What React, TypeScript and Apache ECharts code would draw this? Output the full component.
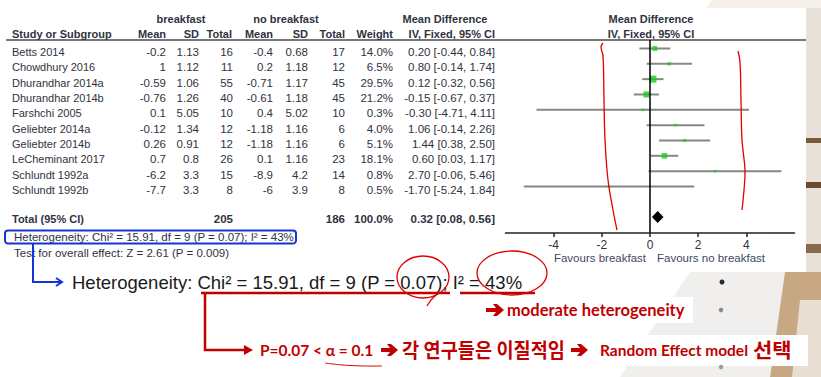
import React, { useEffect, useRef } from "react";
import * as echarts from "echarts";

const studies = [
  "Betts 2014", "Chowdhury 2016", "Dhurandhar 2014a", "Dhurandhar 2014b", "Farshchi 2005",
  "Geliebter 2014a", "Geliebter 2014b", "LeCheminant 2017", "Schlundt 1992a", "Schlundt 1992b",
];
const bMean = ["-0.2", "1", "-0.59", "-0.76", "0.1", "-0.12", "0.26", "0.7", "-6.2", "-7.7"];
const bSD = ["1.13", "1.12", "1.06", "1.26", "5.05", "1.34", "0.91", "0.8", "3.3", "3.3"];
const bN = [16, 11, 55, 40, 10, 12, 12, 26, 15, 8];
const nbMean = ["-0.4", "0.2", "-0.71", "-0.61", "0.4", "-1.18", "-1.18", "0.1", "-8.9", "-6"];
const nbSD = ["0.68", "1.18", "1.17", "1.18", "5.02", "1.16", "1.16", "1.16", "4.2", "3.9"];
const nbN = [17, 12, 45, 45, 10, 6, 6, 23, 14, 8];
const weights = [14.0, 6.5, 29.5, 21.2, 0.3, 4.0, 5.1, 18.1, 0.8, 0.5];
const md = [0.2, 0.8, 0.12, -0.15, -0.3, 1.06, 1.44, 0.6, 2.7, -1.7];
const ciLow = [-0.44, -0.14, -0.32, -0.67, -4.71, -0.14, 0.38, 0.03, -0.06, -5.24];
const ciHigh = [0.84, 1.74, 0.56, 0.37, 4.11, 2.26, 2.5, 1.17, 5.46, 1.84];
const totalBN = 205;
const totalNbN = 186;
const totalWeight = 100.0;
const totalMd = 0.32;
const totalLow = 0.08;
const totalHigh = 0.56;
const xTicks = [-4, -2, 0, 2, 4];
const heterogeneityText = "Heterogeneity: Chi\u00B2 = 15.91, df = 9 (P = 0.07); I\u00B2 = 43%";
const overallText = "Test for overall effect: Z = 2.61 (P = 0.009)";

const ARIAL = "'Liberation Sans', Arial, sans-serif";
const KFONT = "Lato, 'Noto Sans CJK KR', sans-serif";
const TXT = "#2f3340";
const RED = "#c00000";
const HAND = "#e00000";
const BLUE = "#1533d6";

function txt(text: string, x: number, y: number, opts: any = {}) {
  return {
    type: "text",
    x,
    y,
    scaleX: opts.scaleX ?? 1,
    z: opts.z ?? 10,
    style: {
      text,
      font: opts.font ?? `11.5px ${ARIAL}`,
      fill: opts.fill ?? TXT,
      textAlign: opts.align ?? "left",
      align: opts.align ?? "left",
      textVerticalAlign: "middle",
      verticalAlign: "middle",
    },
  };
}

function arrow(x: number, y: number, color: string, w = 17) {
  return {
    type: "polygon",
    z: 10,
    shape: {
      points: [
        [x, y - 2], [x + w - 8, y - 2], [x + w - 11, y - 6], [x + w - 7, y - 6],
        [x + w, y], [x + w - 7, y + 6], [x + w - 11, y + 6], [x + w - 8, y + 2], [x, y + 2],
      ],
    },
    style: { fill: color },
  };
}

export default function App() {
  const ref = useRef<HTMLDivElement>(null);
  useEffect(() => {
    if (!ref.current) return;
    const chart = echarts.init(ref.current, null, { renderer: "svg" });
    const rowY = (i: number) => 52 + 15.33 * i;
    const g: any[] = [];

    // background pieces (outside the white panel)
    g.push({ type: "rect", z: 0, shape: { x: 806, y: 0, width: 15, height: 272 }, style: { fill: "#e7e1d9" } });
    g.push({ type: "rect", z: 0, shape: { x: 806, y: 138, width: 15, height: 5 }, style: { fill: "#7a5a3a" } });
    g.push({ type: "rect", z: 0, shape: { x: 806, y: 182, width: 15, height: 6 }, style: { fill: "#6b4a2e" } });
    g.push({ type: "rect", z: 0, shape: { x: 806, y: 244, width: 15, height: 9 }, style: { fill: "#8a6a4a" } });
    g.push({ type: "polygon", z: 0, shape: { points: [[712, 0], [821, 0], [821, 8], [706, 8]] }, style: { fill: "#f4efe8" } });
    g.push({ type: "polygon", z: 0, shape: { points: [[690, 272], [785, 272], [770, 377], [620, 377]] }, style: { fill: "#f0efed" } });
    g.push({ type: "polygon", z: 0, shape: { points: [[785, 272], [821, 272], [821, 377], [770, 377]] }, style: { fill: "#c8a883" } });
    g.push({ type: "polygon", z: 0, shape: { points: [[800, 300], [821, 300], [821, 377], [792, 377]] }, style: { fill: "#e8dfd2" } });
    g.push({ type: "rect", z: 1, shape: { x: 480, y: 297, width: 213, height: 26 }, style: { fill: "#ffffff" } });
    g.push({ type: "rect", z: 1, shape: { x: 240, y: 335, width: 568, height: 31 }, style: { fill: "#ffffff" } });
    g.push({ type: "circle", z: 2, shape: { cx: 722, cy: 282, r: 2.5 }, style: { fill: "#2a2a2a" } });
    g.push({ type: "circle", z: 2, shape: { cx: 721, cy: 310, r: 2.2 }, style: { fill: "#8a8a8a" } });
    g.push({ type: "circle", z: 2, shape: { cx: 721, cy: 367, r: 2.2 }, style: { fill: "#9a9a9a" } });

    // header
    const HB = `bold 11px ${ARIAL}`;
    g.push(txt("breakfast", 181, 19, { font: HB, align: "center" }));
    g.push(txt("no breakfast", 286, 19, { font: HB, align: "center" }));
    g.push(txt("Mean Difference", 445, 19, { font: HB, align: "center" }));
    g.push(txt("Mean Difference", 651, 19, { font: HB, align: "center" }));
    g.push(txt("Study or Subgroup", 12, 34, { font: HB }));
    g.push(txt("Mean", 166, 34, { font: HB, align: "right" }));
    g.push(txt("SD", 199, 34, { font: HB, align: "right" }));
    g.push(txt("Total", 232, 34, { font: HB, align: "right" }));
    g.push(txt("Mean", 273, 34, { font: HB, align: "right" }));
    g.push(txt("SD", 308, 34, { font: HB, align: "right" }));
    g.push(txt("Total", 345, 34, { font: HB, align: "right" }));
    g.push(txt("Weight", 393, 34, { font: HB, align: "right" }));
    g.push(txt("IV, Fixed, 95% CI", 495, 34, { font: HB, align: "right" }));
    g.push(txt("IV, Fixed, 95% CI", 651, 34, { font: HB, align: "center" }));
    g.push({ type: "line", z: 5, shape: { x1: 6, y1: 40, x2: 806, y2: 40 }, style: { stroke: "#777777", lineWidth: 2 } });

    // rows
    studies.forEach((s, i) => {
      const y = rowY(i);
      g.push(txt(s, 12, y, { font: `11px ${ARIAL}` }));
      g.push(txt(bMean[i], 166, y, { align: "right" }));
      g.push(txt(bSD[i], 199, y, { align: "right" }));
      g.push(txt(String(bN[i]), 233, y, { align: "right" }));
      g.push(txt(nbMean[i], 273, y, { align: "right" }));
      g.push(txt(nbSD[i], 308, y, { align: "right" }));
      g.push(txt(String(nbN[i]), 345, y, { align: "right" }));
      g.push(txt(weights[i].toFixed(1) + "%", 393, y, { align: "right" }));
      g.push(txt(`${md[i].toFixed(2)} [${ciLow[i].toFixed(2)}, ${ciHigh[i].toFixed(2)}]`, 495, y, { align: "right" }));
    });
    const TB = `bold 11.5px ${ARIAL}`;
    g.push(txt("Total (95% CI)", 12, 219, { font: `bold 11px ${ARIAL}` }));
    g.push(txt(String(totalBN), 233, 219, { font: TB, align: "right" }));
    g.push(txt(String(totalNbN), 345, 219, { font: TB, align: "right" }));
    g.push(txt(totalWeight.toFixed(1) + "%", 393, 219, { font: TB, align: "right" }));
    g.push(txt(`${totalMd.toFixed(2)} [${totalLow.toFixed(2)}, ${totalHigh.toFixed(2)}]`, 495, 219, { font: TB, align: "right" }));
    g.push(txt(heterogeneityText, 14, 237, {}));
    g.push(txt(overallText, 14, 253, {}));
    g.push(txt("Favours breakfast", 646, 258, { align: "right", fill: "#404a5e" }));
    g.push(txt("Favours no breakfast", 657, 258, { fill: "#404a5e" }));

    // blue annotation
    g.push({ type: "rect", z: 11, shape: { x: 5, y: 230.5, width: 291, height: 13, r: 3 }, style: { fill: "none", stroke: BLUE, lineWidth: 2 } });
    g.push({ type: "polyline", z: 11, shape: { points: [[33, 243.5], [33, 282], [62, 282]] }, style: { stroke: BLUE, lineWidth: 2, fill: "none" } });
    g.push({ type: "polyline", z: 11, shape: { points: [[56, 278], [62, 282], [56, 286]] }, style: { stroke: BLUE, lineWidth: 2, fill: "none" } });

    // big heterogeneity line
    g.push(txt(heterogeneityText, 72, 282, { font: `18.5px ${ARIAL}`, fill: "#1a1a1a" }));
    g.push({ type: "line", z: 11, shape: { x1: 201, y1: 293, x2: 450, y2: 293 }, style: { stroke: RED, lineWidth: 2.5 } });
    g.push({ type: "line", z: 11, shape: { x1: 460, y1: 293, x2: 535, y2: 293 }, style: { stroke: RED, lineWidth: 2.5 } });
    g.push({ type: "polyline", z: 11, shape: { points: [[205, 293], [205, 350], [246, 350]] }, style: { stroke: RED, lineWidth: 2.5, fill: "none" } });
    g.push({ type: "polygon", z: 11, shape: { points: [[244, 345], [253, 350], [244, 355]] }, style: { fill: RED } });

    // hand-drawn ellipses
    g.push({ type: "ellipse", z: 12, shape: { cx: 423, cy: 277, rx: 26, ry: 21 }, style: { fill: "none", stroke: HAND, lineWidth: 1.3 } });
    g.push({ type: "polyline", z: 12, shape: { points: [[438, 293], [431, 300], [427, 306]] }, style: { fill: "none", stroke: HAND, lineWidth: 1.3 } });
    g.push({ type: "ellipse", z: 12, shape: { cx: 512, cy: 273, rx: 35, ry: 22 }, style: { fill: "none", stroke: HAND, lineWidth: 1.3 } });

    // forest brackets
    g.push({ type: "polyline", z: 12, shape: { smooth: 0.4, points: [[603, 43], [601, 47], [603, 56], [604, 100], [605, 140], [608, 180], [613, 210], [617, 230]] }, style: { fill: "none", stroke: HAND, lineWidth: 1.3 } });
    g.push({ type: "polyline", z: 12, shape: { smooth: 0.4, points: [[738, 51], [740, 62], [741, 100], [742, 140], [745, 170], [744, 190], [742, 210]] }, style: { fill: "none", stroke: HAND, lineWidth: 1.3 } });

    // red annotation texts
    g.push(arrow(486, 310, RED, 18));
    g.push(txt("moderate heterogeneity", 507, 310, { font: `bold 16.5px ${KFONT}`, fill: RED }));
    g.push(txt("P=0.07 < \u03B1 = 0.1", 260, 350, { font: `bold 15.5px ${KFONT}`, fill: RED }));
    g.push(arrow(381, 350, RED, 17));
    g.push(txt("각 연구들은 이질적임", 402, 350, { font: `bold 20px ${KFONT}`, fill: RED, scaleX: 0.93 }));
    g.push(arrow(571, 350, RED, 17));
    g.push(txt("Random Effect model", 600, 350, { font: `bold 15.5px ${KFONT}`, fill: RED }));
    g.push(txt("선택", 753, 350, { font: `bold 20px ${KFONT}`, fill: RED, scaleX: 1.05 }));
    g.push({ type: "polyline", z: 12, shape: { smooth: 0.5, points: [[325, 363], [350, 365.5], [382, 366]] }, style: { fill: "none", stroke: HAND, lineWidth: 1 } });

    chart.setOption({
      animation: false,
      backgroundColor: "#ffffff",
      grid: { left: 505.5, top: 40, width: 289, height: 193, containLabel: false, z: 20 },
      xAxis: {
        type: "value",
        min: -6,
        max: 6,
        interval: 2,
        z: 20,
        axisLine: { show: true, onZero: false, lineStyle: { color: "#222", width: 1.5 } },
        axisTick: { show: true, customValues: xTicks, length: 4, lineStyle: { color: "#222", width: 1.5 } },
        axisLabel: { show: true, customValues: xTicks, color: "#333", fontSize: 12, fontFamily: ARIAL, margin: 6 },
        splitLine: { show: false },
      },
      yAxis: {
        type: "value",
        min: -0.554,
        max: 12.036,
        inverse: true,
        axisLine: { show: false },
        axisTick: { show: false },
        axisLabel: { show: false },
        splitLine: { show: false },
      },
      graphic: { elements: g },
      series: [
        {
          type: "custom",
          z: 3,
          data: ciLow.map((l, i) => [l, ciHigh[i], i]),
          encode: { x: [0, 1], y: 2 },
          renderItem: (params: any, api: any) => {
            const a = api.coord([api.value(0), api.value(2)]);
            const b = api.coord([api.value(1), api.value(2)]);
            return {
              type: "line",
              shape: { x1: a[0], y1: a[1], x2: b[0], y2: b[1] },
              style: { stroke: "#868686", lineWidth: 2 },
            };
          },
        },
        {
          type: "scatter",
          z: 4,
          symbol: "rect",
          data: md.map((m, i) => [m, i, weights[i]]),
          symbolSize: (v: number[]) => Math.max(2.5, 1.3 * Math.sqrt(v[2])),
          itemStyle: { color: "#1ccc1c" },
          markLine: {
            silent: true,
            symbol: "none",
            label: { show: false },
            lineStyle: { color: "#000", width: 1.5, type: "solid" },
            data: [{ xAxis: 0 }],
          },
        },
        {
          type: "custom",
          z: 5,
          data: [[totalLow, totalHigh, 11, totalMd]],
          encode: { x: [0, 1, 3], y: 2 },
          renderItem: (params: any, api: any) => {
            const l = api.coord([api.value(0), api.value(2)]);
            const h = api.coord([api.value(1), api.value(2)]);
            const c = api.coord([api.value(3), api.value(2)]);
            return {
              type: "polygon",
              shape: { points: [[l[0], l[1]], [c[0], c[1] - 6], [h[0], h[1]], [c[0], c[1] + 6]] },
              style: { fill: "#000" },
            };
          },
        },
      ],
    });
    return () => chart.dispose();
  }, []);
  return <div ref={ref} style={{ position: "absolute", left: 0, top: 0, width: 821, height: 377 }} />;
}
